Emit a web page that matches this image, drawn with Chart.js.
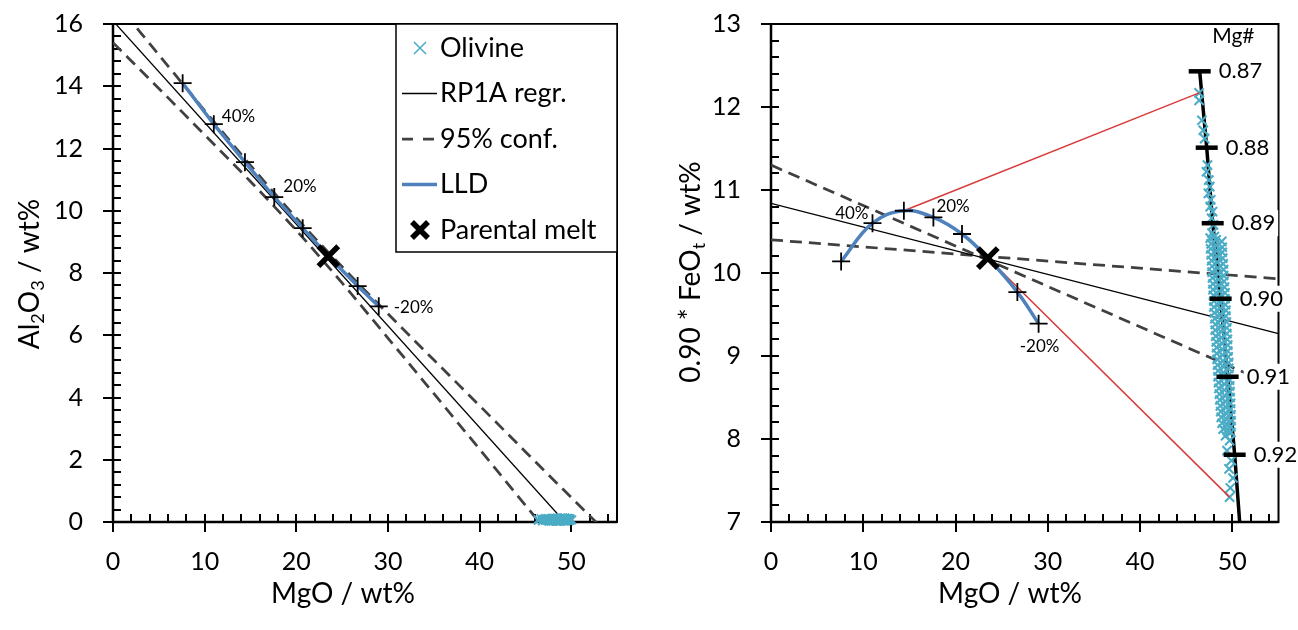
<!DOCTYPE html>
<html>
<head>
<meta charset="utf-8">
<script src="https://cdn.jsdelivr.net/npm/chart.js@4.4.0/dist/chart.umd.min.js"></script>
<style>
  html, body { margin: 0; padding: 0; background: #fff; }
  #wrap { position: relative; width: 1298px; height: 630px; }
  .pane { position: absolute; top: 0; width: 649px; height: 630px; }
  #left { left: 0; }
  #right { left: 649px; }
</style>
</head>
<body>
<div id="wrap">
  <div class="pane" id="left"><canvas id="c1"></canvas></div>
  <div class="pane" id="right"><canvas id="c2"></canvas></div>
</div>
<script>
// liquid line of descent (shared MgO), parental melt is index 5
const lldMgO = [7.6, 11.0, 14.4, 17.6, 20.7, 23.5, 26.7, 29.0];
const lldAl2O3 = [14.1, 12.78, 11.56, 10.44, 9.44, 8.54, 7.58, 6.93];
const lldFeO = [10.14, 10.6, 10.75, 10.67, 10.47, 10.18, 9.77, 9.39];
const parentIndex = 5;
const stepLabels = ['40%', '20%', '-20%'];
const stepIndex = [1, 3, 7];

// left panel regression + 95% confidence
const regrMgOLeft = [0, 49.3];
const regrAl2O3 = [16.1, 0];
const confMgOLeft = [0, 5, 10, 15, 20, 25, 30, 35, 40, 45, 50, 55];
const confUpperAl2O3 = [16.80, 15.01, 13.22, 11.46, 9.77, 8.20, 6.69, 5.21, 3.74, 2.26, 0.79, -0.67];
const confLowerAl2O3 = [15.40, 13.93, 12.44, 10.94, 9.37, 7.68, 5.91, 4.13, 2.34, 0.54, -1.25, -3.05];

// right panel regression + 95% confidence
const regrMgORight = [0, 55];
const regrFeO = [10.84, 9.27];
const confUpperFeO = [11.3, 8.62];
const confLowerFeO = [10.4, 9.93];

// red tie lines to olivine
const redTopMgO = [14.4, 46.4];
const redTopFeO = [10.75, 12.17];
const redLowMgO = [23.5, 49.7];
const redLowFeO = [10.18, 7.30];

// Mg# scale of olivine
const mgNumLabels = ['0.87', '0.88', '0.89', '0.90', '0.91', '0.92'];
const mgTickMgO = [46.46, 47.22, 47.87, 48.73, 49.49, 50.25];
const mgTickFeO = [12.43, 11.51, 10.60, 9.69, 8.75, 7.81];
const mgLineMgO = [46.46, 47.22, 47.87, 48.73, 49.49, 50.25, 50.79];
const mgLineFeO = [12.43, 11.51, 10.60, 9.69, 8.75, 7.81, 7.0];

// olivine analyses
const olivineMgO = [
  46.40, 46.40, 46.70, 46.85, 47.00, 47.30, 47.20, 47.45, 47.55, 47.40, 47.65, 47.60, 47.85, 47.75, 47.95, 47.80, 48.05,
  47.60, 48.25, 48.85, 47.70, 48.30, 48.90, 47.65, 48.35, 48.90, 47.70, 48.40, 48.95,
  47.75, 48.35, 49.00, 47.80, 48.45, 49.05, 47.80, 48.50, 49.05, 47.85, 48.50, 49.10,
  47.90, 48.55, 49.15, 47.90, 48.60, 49.20, 47.95, 48.60, 49.20, 48.00, 48.65, 49.25,
  48.00, 48.70, 49.30, 48.05, 48.70, 49.30, 48.10, 48.75, 49.35, 48.15, 48.80, 49.40,
  48.15, 48.80, 49.40, 48.20, 48.85, 49.45, 48.25, 48.90, 49.50, 48.30, 48.90, 49.50,
  48.30, 48.95, 49.55, 48.35, 49.00, 49.60, 48.40, 49.05, 49.60, 48.45, 49.05, 49.65,
  48.45, 49.10, 49.70, 48.50, 49.15, 49.70, 48.55, 49.15, 49.75, 48.60, 49.20, 49.75,
  48.65, 49.25, 49.80, 48.70, 49.30, 49.80, 48.75, 49.30, 49.85, 48.80, 49.35, 49.85,
  48.90, 49.40, 49.85, 49.00, 49.45, 49.85,
  49.27, 49.70, 49.42, 49.89, 49.64, 50.07, 49.78, 49.70
];
const olivineFeO = [
  12.17, 12.08, 11.84, 11.72, 11.62, 11.30, 11.22, 11.12, 11.04, 10.96, 10.88, 10.80, 10.74, 10.66, 10.58, 10.48, 10.44,
  10.42, 10.40, 10.38, 10.35, 10.33, 10.31, 10.29, 10.27, 10.25, 10.22, 10.20, 10.18,
  10.15, 10.13, 10.11, 10.08, 10.06, 10.04, 10.01, 9.99, 9.97, 9.94, 9.92, 9.90,
  9.87, 9.85, 9.83, 9.80, 9.78, 9.76, 9.73, 9.71, 9.69, 9.66, 9.64, 9.62,
  9.59, 9.57, 9.55, 9.52, 9.50, 9.48, 9.45, 9.43, 9.41, 9.38, 9.36, 9.34,
  9.31, 9.29, 9.27, 9.24, 9.22, 9.20, 9.17, 9.15, 9.13, 9.10, 9.08, 9.06,
  9.03, 9.01, 8.99, 8.96, 8.94, 8.92, 8.89, 8.87, 8.85, 8.82, 8.80, 8.78,
  8.75, 8.73, 8.71, 8.68, 8.66, 8.64, 8.61, 8.59, 8.57, 8.54, 8.52, 8.50,
  8.47, 8.45, 8.43, 8.40, 8.38, 8.36, 8.33, 8.31, 8.29, 8.26, 8.24, 8.22,
  8.19, 8.17, 8.15, 8.12, 8.10, 8.08,
  8.04, 7.98, 7.86, 7.74, 7.64, 7.53, 7.41, 7.30
];
const olivineAl2O3 = [
  0.08, 0.05, 0.11, 0.03, 0.09, 0.06, 0.12, 0.04, 0.07, 0.10, 0.05,
  0.09, 0.03, 0.07, 0.12, 0.06, 0.10, 0.04, 0.08, 0.11, 0.05, 0.07,
  0.04, 0.10, 0.06, 0.13, 0.08, 0.03, 0.09, 0.05, 0.11, 0.07, 0.04,
  0.12, 0.06, 0.09, 0.03, 0.10, 0.07, 0.05, 0.13, 0.08, 0.04, 0.11,
  0.06, 0.09, 0.04, 0.12, 0.07, 0.10, 0.03, 0.08, 0.05, 0.11, 0.06,
  0.10, 0.04, 0.08, 0.13, 0.05, 0.09, 0.06, 0.12, 0.03, 0.07, 0.10,
  0.05, 0.11, 0.07, 0.04, 0.09, 0.12, 0.06, 0.08, 0.03, 0.10, 0.05,
  0.09, 0.06, 0.12, 0.04, 0.08, 0.11, 0.05, 0.07, 0.10, 0.03, 0.09,
  0.07, 0.04, 0.10, 0.06, 0.13, 0.08, 0.05, 0.11, 0.04, 0.09, 0.06,
  0.11, 0.08, 0.03, 0.10, 0.05, 0.09, 0.12, 0.06, 0.04, 0.08, 0.10,
  0.05, 0.09, 0.07, 0.12, 0.04, 0.10, 0.06, 0.08, 0.11, 0.03, 0.07,
  0.09, 0.05, 0.12, 0.07, 0.04, 0.10
];

const legendLabels = ['Olivine', 'RP1A regr.', '95% conf.', 'LLD', 'Parental melt'];
const xTitle = 'MgO / wt%';
const yTitleLeft = [['Al', 0], ['2', 1], ['O', 0], ['3', 1], [' / wt%', 0]];
const yTitleRight = [['0.90 * FeO', 0], ['t', 1], [' / wt%', 0]];

const FONT = 'Lato';
const CYAN = '#4BACC6';
const BLUE = '#4F81BD';
const RED = '#D83B3B';
const DASH = '#404040';

const pts = (xs, ys) => xs.map((x, i) => ({ x: x, y: ys[i] }));

function lineSet(data, color, width, dash, order) {
  return {
    data: data, showLine: true, borderColor: color, borderWidth: width,
    borderDash: dash || [], pointRadius: 0, fill: false, tension: 0, order: order
  };
}

function drawRich(ctx, parts, size) {
  let total = 0;
  parts.forEach(([t, sub]) => {
    ctx.font = (sub ? size * 0.65 : size) + 'px ' + FONT;
    total += ctx.measureText(t).width;
  });
  let cx = -total / 2;
  parts.forEach(([t, sub]) => {
    ctx.font = (sub ? size * 0.65 : size) + 'px ' + FONT;
    ctx.fillText(t, cx, sub ? size * 0.3 : 0);
    cx += ctx.measureText(t).width;
  });
}

// frame, minor/major ticks, axis titles, % labels
const decorPlugin = {
  id: 'decor',
  beforeDatasetsDraw(chart, args, o) {
    const { ctx, chartArea: a, scales: { x, y } } = chart;
    ctx.save();
    ctx.strokeStyle = '#000';
    ctx.lineWidth = 2;
    ctx.strokeRect(a.left, a.top, a.right - a.left, a.bottom - a.top);
    let n = Math.round((x.max - x.min) / o.xMinor);
    let r = Math.round(o.xMajor / o.xMinor);
    for (let i = 0; i <= n; i++) {
      const px = Math.round(x.getPixelForValue(x.min + i * o.xMinor));
      const major = i % r === 0;
      if (!major && i === n) continue;
      ctx.beginPath();
      ctx.moveTo(px, a.bottom - 8);
      ctx.lineTo(px, a.bottom + (major ? 10 : 0));
      ctx.stroke();
    }
    n = Math.round((y.max - y.min) / o.yMinor);
    r = Math.round(o.yMajor / o.yMinor);
    for (let i = 0; i <= n; i++) {
      const py = Math.round(y.getPixelForValue(y.min + i * o.yMinor));
      const major = i % r === 0;
      ctx.beginPath();
      ctx.moveTo(a.left - (major ? 10 : 0), py);
      ctx.lineTo(a.left + 8, py);
      ctx.stroke();
    }
    ctx.lineWidth = 2.5;
    ctx.beginPath();
    ctx.moveTo(a.left, a.top);
    ctx.lineTo(a.left, a.bottom);
    ctx.lineTo(a.right, a.bottom);
    ctx.stroke();
    ctx.restore();
  },
  afterDatasetsDraw(chart, args, o) {
    const { ctx, scales: { x, y } } = chart;
    ctx.save();
    ctx.fillStyle = '#000';
    ctx.textBaseline = 'middle';
    // step labels
    ctx.font = '17px ' + FONT;
    stepLabels.forEach((t, i) => {
      const k = stepIndex[i];
      const off = o.stepOffsets[i];
      ctx.textAlign = off[2];
      ctx.fillText(t, x.getPixelForValue(lldMgO[k]) + off[0], y.getPixelForValue(o.stepY[k]) + off[1]);
    });
    // axis titles
    ctx.textAlign = 'center';
    ctx.font = '28px ' + FONT;
    ctx.fillText(xTitle, o.xTitlePos[0], o.xTitlePos[1]);
    ctx.translate(o.yTitlePos[0], o.yTitlePos[1]);
    ctx.rotate(-Math.PI / 2);
    ctx.textAlign = 'left';
    drawRich(ctx, o.yTitle, 28);
    ctx.restore();
  }
};

const legendPlugin = {
  id: 'boxLegend',
  afterDatasetsDraw(chart, args, o) {
    const ctx = chart.ctx;
    ctx.save();
    ctx.fillStyle = '#fff';
    ctx.fillRect(o.x, o.y, o.w, o.h);
    ctx.strokeStyle = '#000';
    ctx.lineWidth = 1.5;
    ctx.strokeRect(o.x, o.y, o.w, o.h);
    ctx.textBaseline = 'middle';
    ctx.font = '27px ' + FONT;
    legendLabels.forEach((t, i) => {
      const cy = o.y + o.first + i * o.step;
      const mx = o.x + 24;
      ctx.save();
      ctx.setLineDash([]);
      if (i === 0) {
        ctx.strokeStyle = CYAN; ctx.lineWidth = 1.5;
        ctx.beginPath();
        ctx.moveTo(mx - 6, cy - 6); ctx.lineTo(mx + 6, cy + 6);
        ctx.moveTo(mx - 6, cy + 6); ctx.lineTo(mx + 6, cy - 6);
        ctx.stroke();
      } else if (i === 1) {
        ctx.strokeStyle = '#000'; ctx.lineWidth = 1.3;
        ctx.beginPath(); ctx.moveTo(o.x + 6, cy); ctx.lineTo(o.x + 41, cy); ctx.stroke();
      } else if (i === 2) {
        ctx.strokeStyle = DASH; ctx.lineWidth = 2.75; ctx.setLineDash([11, 10]);
        ctx.beginPath(); ctx.moveTo(o.x + 6, cy); ctx.lineTo(o.x + 41, cy); ctx.stroke();
      } else if (i === 3) {
        ctx.strokeStyle = BLUE; ctx.lineWidth = 3.5;
        ctx.beginPath(); ctx.moveTo(o.x + 6, cy); ctx.lineTo(o.x + 41, cy); ctx.stroke();
      } else {
        ctx.strokeStyle = '#000'; ctx.lineWidth = 5.5;
        ctx.beginPath();
        ctx.moveTo(mx - 8, cy - 8); ctx.lineTo(mx + 8, cy + 8);
        ctx.moveTo(mx - 8, cy + 8); ctx.lineTo(mx + 8, cy - 8);
        ctx.stroke();
      }
      ctx.restore();
      ctx.fillStyle = '#000';
      ctx.fillText(t, o.x + 44, cy);
    });
    ctx.restore();
  }
};

const mgPlugin = {
  id: 'mgLabels',
  afterDatasetsDraw(chart) {
    const { ctx, chartArea: a, scales: { x, y } } = chart;
    ctx.save();
    ctx.font = '22px ' + FONT;
    ctx.textBaseline = 'middle';
    mgNumLabels.forEach((t, i) => {
      const px = x.getPixelForValue(mgTickMgO[i]) + 19;
      const py = y.getPixelForValue(mgTickFeO[i]);
      const w = ctx.measureText(t).width;
      ctx.fillStyle = '#fff';
      ctx.fillRect(px - 3, py - 13, w + 6, 26);
      ctx.fillStyle = '#000';
      ctx.fillText(t, px, py);
    });
    ctx.font = '21px ' + FONT;
    ctx.textAlign = 'right';
    ctx.fillText('Mg#', a.right - 24, a.top + 12);
    ctx.restore();
  }
};

function axes(xmin, xmax, ymin, ymax, ystep, yWidth) {
  const tickFont = { family: FONT, size: 25 };
  const noPad = s => { s.paddingTop = 0; s.paddingBottom = 0; s.paddingLeft = 0; s.paddingRight = 0; };
  return {
    x: {
      type: 'linear', min: xmin, max: xmax,
      grid: { display: false, drawTicks: false }, border: { display: false },
      ticks: { stepSize: 10, includeBounds: false, padding: 25, color: '#000', font: tickFont },
      afterFit: s => { s.height = 108; noPad(s); }
    },
    y: {
      type: 'linear', min: ymin, max: ymax,
      grid: { display: false, drawTicks: false }, border: { display: false },
      ticks: { stepSize: ystep, includeBounds: false, padding: 30, color: '#000', font: tickFont },
      afterFit: s => { s.width = yWidth; noPad(s); }
    }
  };
}

const crossPoints = {
  pointStyle: 'cross',
  pointRadius: ctx => (ctx.dataIndex === parentIndex ? 0 : 9),
  pointBorderColor: '#000',
  pointBorderWidth: 1.8
};

new Chart(document.getElementById('c1'), {
  type: 'scatter',
  data: {
    datasets: [
      { data: [{ x: lldMgO[parentIndex], y: lldAl2O3[parentIndex] }], pointStyle: 'crossRot', pointRadius: 14,
        pointBorderColor: '#000', pointBorderWidth: 5.5, order: 0, clip: false },
      Object.assign(lineSet(pts(lldMgO, lldAl2O3), BLUE, 3.5, null, 1), crossPoints),
      { data: pts(olivineMgO, olivineAl2O3), pointStyle: 'crossRot', pointRadius: 6,
        pointBorderColor: CYAN, pointBorderWidth: 1.8, order: 2, clip: false },
      lineSet(pts(regrMgOLeft, regrAl2O3), '#000', 1.3, null, 3),
      Object.assign(lineSet(pts(confMgOLeft, confUpperAl2O3), DASH, 2.75, [12, 7], 4), { cubicInterpolationMode: 'monotone' }),
      Object.assign(lineSet(pts(confMgOLeft, confLowerAl2O3), DASH, 2.75, [12, 7], 5), { cubicInterpolationMode: 'monotone' })
    ]
  },
  options: {
    responsive: true, maintainAspectRatio: false, animation: false, events: [],
    devicePixelRatio: 1,
    layout: { padding: { top: 24, right: 32, left: 0, bottom: 0 } },
    scales: axes(0, 55, 0, 16, 2, 113),
    plugins: {
      legend: { display: false }, tooltip: { enabled: false },
      decor: {
        xMinor: 2, xMajor: 10, yMinor: 0.4, yMajor: 2,
        stepY: lldAl2O3,
        stepOffsets: [[8, -8, 'left'], [9, -11, 'left'], [15, 1, 'left']],
        xTitlePos: [343, 594], yTitlePos: [30, 274], yTitle: yTitleLeft
      },
      boxLegend: { x: 396, y: 24, w: 221, h: 228, first: 24, step: 45.5 }
    }
  },
  plugins: [decorPlugin, legendPlugin]
});

new Chart(document.getElementById('c2'), {
  type: 'scatter',
  data: {
    datasets: [
      { data: [{ x: lldMgO[parentIndex], y: lldFeO[parentIndex] }], pointStyle: 'crossRot', pointRadius: 14,
        pointBorderColor: '#000', pointBorderWidth: 5.5, order: 0, clip: false },
      Object.assign(lineSet(pts(lldMgO, lldFeO), BLUE, 3.5, null, 1), crossPoints, { tension: 0.4 }),
      lineSet(pts(redTopMgO, redTopFeO), RED, 1.5, null, 2),
      lineSet(pts(redLowMgO, redLowFeO), RED, 1.5, null, 3),
      { data: pts(mgTickMgO, mgTickFeO), pointStyle: 'line', pointRadius: 11,
        pointBorderColor: '#000', pointBorderWidth: 4.5, order: 4, clip: false },
      { data: pts(olivineMgO, olivineFeO), pointStyle: 'crossRot', pointRadius: 6.5,
        pointBorderColor: CYAN, pointBorderWidth: 2.1, order: 5, clip: false },
      lineSet(pts(mgLineMgO, mgLineFeO), '#000', 3.5, null, 6),
      lineSet(pts(regrMgORight, regrFeO), '#000', 1.3, null, 7),
      lineSet(pts(regrMgORight, confUpperFeO), DASH, 2.75, [12, 7], 8),
      lineSet(pts(regrMgORight, confLowerFeO), DASH, 2.75, [12, 7], 9)
    ]
  },
  options: {
    responsive: true, maintainAspectRatio: false, animation: false, events: [],
    devicePixelRatio: 1,
    layout: { padding: { top: 24, right: 19, left: 0, bottom: 0 } },
    scales: axes(0, 55, 7, 13, 1, 122),
    plugins: {
      legend: { display: false }, tooltip: { enabled: false },
      decor: {
        xMinor: 2, xMajor: 10, yMinor: 0.2, yMajor: 1,
        stepY: lldFeO,
        stepOffsets: [[-4, -10, 'right'], [3, -11, 'left'], [1, 23, 'center']],
        xTitlePos: [361, 594], yTitlePos: [42, 272], yTitle: yTitleRight
      }
    }
  },
  plugins: [decorPlugin, mgPlugin]
});
</script>
</body>
</html>
